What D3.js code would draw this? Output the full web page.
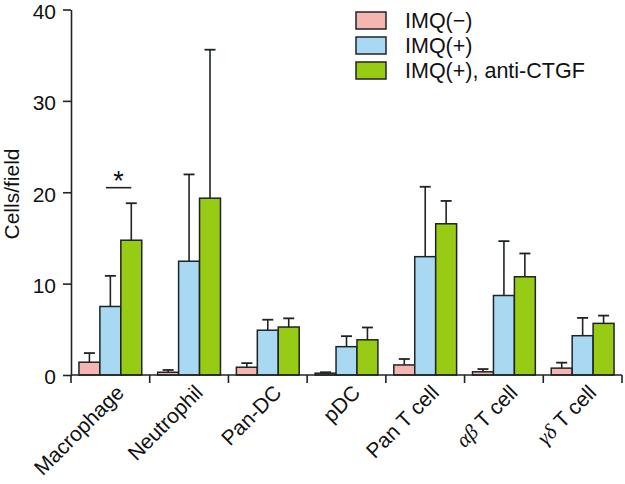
<!DOCTYPE html>
<html>
<head>
<meta charset="utf-8">
<script src="https://cdn.jsdelivr.net/npm/d3@7"></script>
<style>
  html, body { margin: 0; padding: 0; background: #fff; }
  svg { display: block; font-family: "Liberation Sans", Arial, sans-serif; }
</style>
</head>
<body>
<svg id="chart" width="625" height="484"></svg>
<script>
// ---- data ----
const categories = ["Macrophage", "Neutrophil", "Pan-DC", "pDC", "Pan T cell", "\u03b1\u03b2 T cell", "\u03b3\u03b4 T cell"];
const seriesNames = ["IMQ(\u2212)", "IMQ(+)", "IMQ(+), anti-CTGF"];
const imqNeg      = [1.4, 0.3, 0.85, 0.2, 1.1, 0.35, 0.75];
const imqNegErr   = [1.0, 0.25, 0.45, 0.1, 0.65, 0.3, 0.6];
const imqPos      = [7.5, 12.45, 4.9, 3.1, 12.95, 8.7, 4.3];
const imqPosErr   = [3.35, 9.5, 1.15, 1.15, 7.65, 5.95, 1.95];
const imqCtgf     = [14.75, 19.35, 5.25, 3.85, 16.55, 10.75, 5.65];
const imqCtgfErr  = [4.05, 16.25, 0.95, 1.35, 2.5, 2.55, 0.85];
const yTicks = [0, 10, 20, 30, 40];
const colors = ["#f5b5b0", "#a8d8f2", "#98cb14"];
const sigBracket = { category: "Macrophage", from: 1, to: 2, value: 20.5, label: "*" };

const seriesVals = [imqNeg, imqPos, imqCtgf];
const seriesErrs = [imqNegErr, imqPosErr, imqCtgfErr];

const svg = d3.select("#chart");
const x0 = 71, x1 = 622, yTop = 9.5, yBot = 375;
const FS = 21;

const x = d3.scaleBand().domain(categories).range([x0, x1]).paddingInner(0).paddingOuter(0);
const xs = d3.scaleBand().domain([0, 1, 2]).range([0, x.bandwidth()]).paddingInner(0).paddingOuter(0.38);
const y = d3.scaleLinear().domain([0, 40]).range([yBot, yTop]);

const ink = "#1e2424";

const rows = [];
categories.forEach((c, i) => {
  for (let s = 0; s < 3; s++) rows.push({ c, s, v: seriesVals[s][i], e: seriesErrs[s][i] });
});

// error bars
const eg = svg.append("g");
rows.forEach(d => {
  const cx = x(d.c) + xs(d.s) + xs.bandwidth() / 2;
  eg.append("line").attr("x1", cx).attr("x2", cx)
    .attr("y1", y(d.v)).attr("y2", y(d.v + d.e))
    .attr("stroke", ink).attr("stroke-width", 1.6);
  eg.append("line").attr("x1", cx - 5.5).attr("x2", cx + 5.5)
    .attr("y1", y(d.v + d.e)).attr("y2", y(d.v + d.e))
    .attr("stroke", ink).attr("stroke-width", 1.8);
});

svg.append("g").selectAll("rect").data(rows).join("rect")
  .attr("x", d => x(d.c) + xs(d.s))
  .attr("y", d => y(d.v))
  .attr("width", xs.bandwidth())
  .attr("height", d => y(0) - y(d.v))
  .attr("fill", d => colors[d.s])
  .attr("stroke", ink).attr("stroke-width", 1.5);

// y axis
const yAxis = d3.axisLeft(y).tickValues(yTicks).tickSize(8).tickPadding(7).tickSizeOuter(0);
const yg = svg.append("g").attr("transform", `translate(${x0},0)`).call(yAxis);
yg.select(".domain").attr("stroke", ink).attr("stroke-width", 1.6);
yg.selectAll(".tick line").attr("stroke", ink).attr("stroke-width", 1.6);
yg.selectAll(".tick text").attr("font-size", FS).attr("fill", "#111").attr("dy", "0.42em")
  .attr("font-family", "Liberation Sans, Arial, sans-serif");

// x axis
const boundaries = categories.map(c => x(c)).concat([x1]);
const xg = svg.append("g");
xg.append("line").attr("x1", x0).attr("x2", x1).attr("y1", yBot).attr("y2", yBot)
  .attr("stroke", ink).attr("stroke-width", 1.6);
xg.selectAll("line.t").data(boundaries).join("line").attr("class", "t")
  .attr("x1", d => d).attr("x2", d => d).attr("y1", yBot).attr("y2", yBot + 8)
  .attr("stroke", ink).attr("stroke-width", 1.6);
const greek = /^([\u03b1-\u03c9]+)(.*)$/;
xg.selectAll("text").data(categories).join("text")
  .attr("transform", c => `translate(${x(c) + x.bandwidth() / 2 + 15},${yBot + 19}) rotate(-45)`)
  .attr("text-anchor", "end")
  .attr("font-size", FS).attr("fill", "#111")
  .each(function (c) {
    const m = c.match(greek);
    const t = d3.select(this);
    if (m) {
      t.append("tspan").attr("font-family", "Liberation Serif, serif").attr("font-style", "italic").text(m[1]);
      t.append("tspan").text(m[2]);
    } else t.text(c);
  });

// y label
svg.append("text")
  .attr("transform", `translate(${19},${194}) rotate(-90)`)
  .attr("text-anchor", "middle").attr("font-size", FS).attr("fill", "#111")
  .text("Cells/field");

// significance bracket
{
  const cx = x(sigBracket.category);
  const xa = cx + xs(sigBracket.from) + xs.bandwidth() / 2 - 4.5;
  const xb = cx + xs(sigBracket.to) + xs.bandwidth() / 2;
  const yy = y(sigBracket.value);
  svg.append("line").attr("x1", xa).attr("x2", xb).attr("y1", yy).attr("y2", yy)
    .attr("stroke", ink).attr("stroke-width", 1.6);
  svg.append("text").attr("x", (xa + xb) / 2).attr("y", yy + 2)
    .attr("text-anchor", "middle").attr("font-size", 27).attr("fill", "#111")
    .text(sigBracket.label);
}

// legend
const lg = svg.append("g").attr("transform", "translate(356,12)");
seriesNames.forEach((n, i) => {
  const g = lg.append("g").attr("transform", `translate(0,${i * 25})`);
  g.append("rect").attr("x", 0).attr("y", 0).attr("width", 30).attr("height", 17)
    .attr("fill", colors[i]).attr("stroke", ink).attr("stroke-width", 1.5);
  g.append("text").attr("x", 49).attr("y", 16).attr("font-size", FS + 0.5).attr("fill", "#111").text(n);
});
</script>
</body>
</html>
